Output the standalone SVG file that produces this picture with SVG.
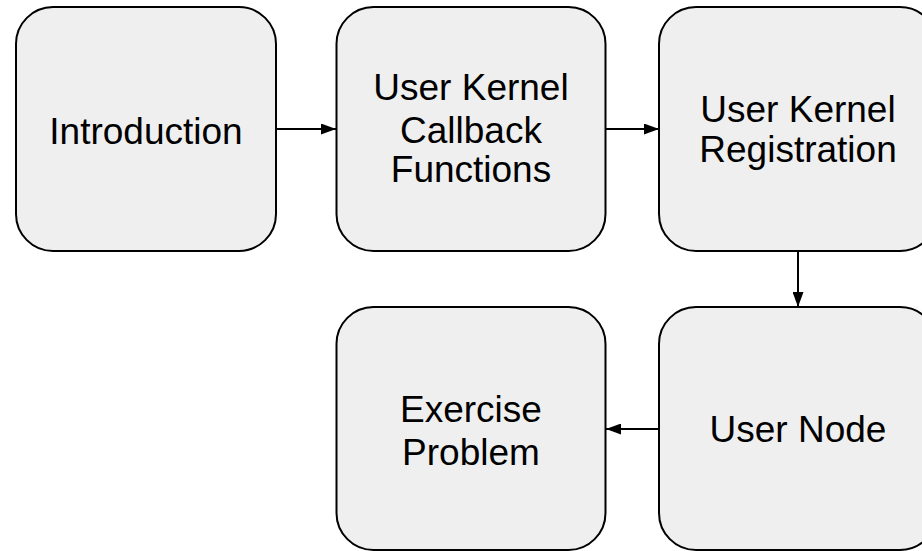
<svg xmlns="http://www.w3.org/2000/svg" width="922" height="551" viewBox="0 0 922 551">
<style>
.box{fill:#efefef;stroke:#000;stroke-width:2}
.lbl{font-family:"Liberation Sans",Arial,sans-serif;font-size:37px;fill:#000;text-anchor:middle}
.edge{stroke:#000;stroke-width:2;fill:none}
</style>
<defs>
<marker id="ah" markerWidth="15" markerHeight="11" refX="15" refY="5.5" orient="auto" markerUnits="userSpaceOnUse">
<path d="M0,0 L15,5.5 L0,11 z" fill="#000"/>
</marker>
</defs>
<rect width="922" height="551" fill="#fff"/>
<g id="connectors">
<line class="edge" x1="276" y1="129" x2="336" y2="129" marker-end="url(#ah)"/>
<line class="edge" x1="606" y1="129" x2="659" y2="129" marker-end="url(#ah)"/>
<line class="edge" x1="798" y1="251" x2="798" y2="307" marker-end="url(#ah)"/>
<line class="edge" x1="659" y1="429" x2="606" y2="429" marker-end="url(#ah)"/>
</g>
<g id="introduction">
<rect class="box" x="16" y="7" width="260" height="244" rx="37"/>
<text class="lbl" x="146" y="144">Introduction</text>
</g>
<g id="callbacks">
<rect class="box" x="336.5" y="7" width="269" height="244" rx="37"/>
<text class="lbl" x="471" y="100">User Kernel</text>
<text class="lbl" x="471" y="143">Callback</text>
<text class="lbl" x="471" y="182">Functions</text>
</g>
<g id="registration">
<rect class="box" x="659" y="7" width="278" height="244" rx="37"/>
<text class="lbl" x="798" y="122">User Kernel</text>
<text class="lbl" x="798" y="162">Registration</text>
</g>
<g id="exercise">
<rect class="box" x="336.5" y="307" width="269" height="243" rx="37"/>
<text class="lbl" x="471" y="422">Exercise</text>
<text class="lbl" x="471" y="465">Problem</text>
</g>
<g id="usernode">
<rect class="box" x="659" y="307" width="278" height="243" rx="37"/>
<text class="lbl" x="798" y="442">User Node</text>
</g>
</svg>
